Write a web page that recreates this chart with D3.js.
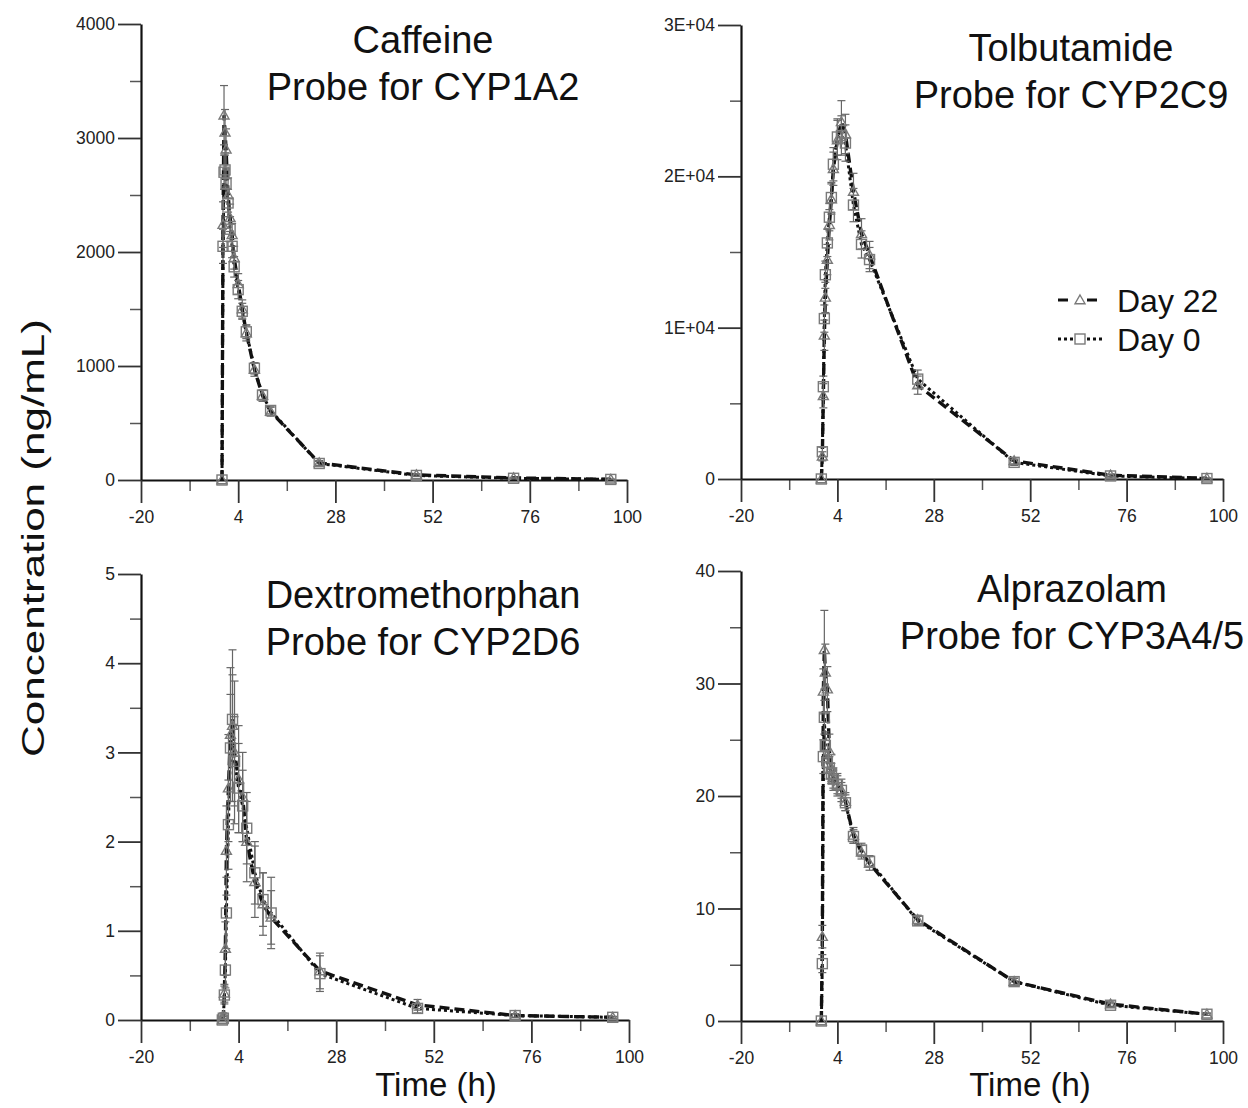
<!DOCTYPE html>
<html><head><meta charset="utf-8">
<script src="https://cdn.jsdelivr.net/npm/d3@7"></script>
<style>body{margin:0;background:#fff}svg{display:block}text{font-family:"Liberation Sans",Arial,sans-serif}</style>
</head><body><svg id="c" width="1248" height="1108"></svg>
<script>
// ---- data ----
const times = [0, 0.25, 0.5, 0.75, 1, 1.5, 2, 2.5, 3, 4, 5, 6, 8, 10, 12, 24, 48, 72, 96];
const xTicks = [-20, 4, 28, 52, 76, 100];
const xMinor = [-8, 16, 40, 64, 88];

const caffeineDay22 = [0, 2240, 3200, 3050, 2900, 2500, 2300, 2150, 1950, 1720, 1500, 1290, 970, 740, 600, 150, 45, 18, 6];
const caffeineDay0  = [0, 2050, 2700, 2720, 2600, 2430, 2200, 2050, 1870, 1670, 1480, 1300, 980, 745, 610, 145, 40, 15, 5];
const caffeineSd22  = [0, 200, 260, 200, 180, 150, 120, 100, 100, 90, 80, 70, 60, 50, 40, 20, 10, 5, 2];
const caffeineSd0   = [0, 150, 150, 150, 130, 120, 110, 100, 90, 80, 70, 60, 50, 40, 30, 20, 10, 5, 2];

const tolbutamideDay22 = [0, 1500, 5500, 9500, 12000, 14500, 16800, 18500, 20500, 22400, 23600, 22800, 19000, 16200, 14800, 6200, 1200, 250, 50];
const tolbutamideDay0  = [0, 1800, 6100, 10600, 13500, 15600, 17300, 18600, 20800, 22600, 22700, 22200, 18100, 15500, 14500, 6600, 1100, 200, 30];
const tolbutamideSd22  = [0, 300, 800, 1000, 1000, 1000, 1000, 1000, 1100, 1300, 1400, 1300, 1200, 1000, 900, 600, 200, 80, 20];
const tolbutamideSd0   = [0, 300, 700, 900, 900, 900, 900, 1000, 1100, 1200, 1300, 1200, 1100, 900, 800, 600, 200, 80, 20];

const dextroDay22 = [0, 0.05, 0.3, 0.8, 1.9, 2.6, 3.2, 3.3, 3.0, 2.7, 2.5, 2.0, 1.55, 1.3, 1.15, 0.55, 0.17, 0.05, 0.03];
const dextroDay0  = [0, 0.02, 0.28, 0.56, 1.2, 2.19, 3.05, 3.37, 2.9, 2.6, 2.4, 2.15, 1.65, 1.35, 1.2, 0.52, 0.13, 0.05, 0.03];
const dextroSd22  = [0, 0.03, 0.1, 0.3, 0.5, 0.6, 0.75, 0.85, 0.8, 0.6, 0.5, 0.45, 0.4, 0.35, 0.3, 0.2, 0.06, 0.02, 0.01];
const dextroSd0   = [0, 0.02, 0.1, 0.2, 0.4, 0.5, 0.6, 0.5, 0.5, 0.5, 0.4, 0.4, 0.35, 0.3, 0.4, 0.2, 0.05, 0.02, 0.01];

const alprazolamDay22 = [0, 7.5, 29.3, 33, 31, 29.5, 24, 22.5, 21.5, 21, 20.5, 19.5, 16.5, 15, 14, 9, 3.5, 1.5, 0.6];
const alprazolamDay0  = [0, 5.1, 23.5, 27, 24.5, 23, 22.5, 22, 21.5, 21, 20.5, 19.4, 16.4, 15.2, 14.2, 8.9, 3.5, 1.4, 0.6];
const alprazolamSd22  = [0, 1, 2, 3.5, 2.5, 2, 1.5, 1.2, 1, 1, 1, 0.8, 0.7, 0.6, 0.6, 0.4, 0.3, 0.2, 0.1];
const alprazolamSd0   = [0, 0.8, 1.5, 1.5, 1.2, 1, 1, 0.9, 0.8, 0.8, 0.7, 0.7, 0.6, 0.6, 0.5, 0.4, 0.3, 0.2, 0.1];

const drugNames = ["Caffeine", "Tolbutamide", "Dextromethorphan", "Alprazolam"];
const probeLabels = ["Probe for CYP1A2", "Probe for CYP2C9", "Probe for CYP2D6", "Probe for CYP3A4/5"];
const yMax = [4000, 30000, 5, 40];
const yMajorStep = [1000, 10000, 1, 10];
const seriesNames = ["Day 22", "Day 0"];

// ---- layout ----
const panels = [
  {l:141, r:627, t:24, b:480, tx:423, ty:[53, 100], fmt: d=>String(d), d22:caffeineDay22, d0:caffeineDay0, s22:caffeineSd22, s0:caffeineSd0},
  {l:741, r:1223, t:25, b:479, tx:1071, ty:[61, 108], fmt: d=> d===0?"0":(d/1e4)+"E+04", d22:tolbutamideDay22, d0:tolbutamideDay0, s22:tolbutamideSd22, s0:tolbutamideSd0},
  {l:141, r:629, t:574, b:1020, tx:423, ty:[608, 655], fmt: d=>String(d), d22:dextroDay22, d0:dextroDay0, s22:dextroSd22, s0:dextroSd0},
  {l:741, r:1223, t:571, b:1021, tx:1072, ty:[602, 649], fmt: d=>String(d), d22:alprazolamDay22, d0:alprazolamDay0, s22:alprazolamSd22, s0:alprazolamSd0}
];

const svg = d3.select("#c");
const markerGrey = "#7a7a7a";
const tickFont = "'Liberation Sans', Arial, sans-serif";

function triPath(x, y, s) {
  return `M${x},${y - s}L${x + s},${y + s * 0.75}L${x - s},${y + s * 0.75}Z`;
}

panels.forEach((p, i) => {
  const g = svg.append("g");
  const x = d3.scaleLinear().domain([-20, 100]).range([p.l, p.r]);
  const y = d3.scaleLinear().domain([0, yMax[i]]).range([p.b, p.t]);
  const majors = d3.range(0, yMax[i] + 1e-9, yMajorStep[i]);
  const minors = d3.range(yMajorStep[i] / 2, yMax[i], yMajorStep[i]);

  // minor ticks
  g.append("g").attr("transform", `translate(${p.l},0)`)
    .call(d3.axisLeft(y).tickValues(minors).tickSize(11).tickFormat("").tickSizeOuter(0))
    .call(a => a.select(".domain").remove())
    .call(a => a.selectAll("line").attr("stroke", "#555").attr("stroke-width", 1.5));
  g.append("g").attr("transform", `translate(0,${p.b})`)
    .call(d3.axisBottom(x).tickValues(xMinor).tickSize(11).tickFormat("").tickSizeOuter(0))
    .call(a => a.select(".domain").remove())
    .call(a => a.selectAll("line").attr("stroke", "#555").attr("stroke-width", 1.5));

  // major y axis
  g.append("g").attr("transform", `translate(${p.l},0)`)
    .call(d3.axisLeft(y).tickValues(majors).tickSize(23).tickPadding(3).tickFormat(p.fmt).tickSizeOuter(0))
    .call(a => a.select(".domain").attr("stroke", "#111").attr("stroke-width", 2.2))
    .call(a => a.selectAll("line").attr("stroke", "#333").attr("stroke-width", 1.8))
    .call(a => a.selectAll("text").attr("font-size", 17.5).attr("fill", "#222").attr("font-family", tickFont));
  // major x axis
  g.append("g").attr("transform", `translate(0,${p.b})`)
    .call(d3.axisBottom(x).tickValues(xTicks).tickSize(23).tickPadding(8).tickFormat(d => String(d)).tickSizeOuter(0))
    .call(a => a.select(".domain").attr("stroke", "#111").attr("stroke-width", 2.2))
    .call(a => a.selectAll("line").attr("stroke", "#333").attr("stroke-width", 1.8))
    .call(a => a.selectAll("text").attr("font-size", 17.5).attr("fill", "#222").attr("font-family", tickFont));

  const line = d3.line().x((d, j) => x(times[j])).y(d => y(d));
  // lines
  g.append("path").datum(p.d0).attr("d", line).attr("fill", "none")
    .attr("stroke", "#111").attr("stroke-width", 3).attr("stroke-dasharray", "3,3");
  g.append("path").datum(p.d22).attr("d", line).attr("fill", "none")
    .attr("stroke", "#111").attr("stroke-width", 3.4).attr("stroke-dasharray", "10,5");

  // error bars
  [[p.d22, p.s22], [p.d0, p.s0]].forEach(([vals, sds]) => {
    const eb = g.append("g").attr("stroke", "#666").attr("stroke-width", 1.2);
    vals.forEach((v, j) => {
      if (!sds[j]) return;
      const cx = x(times[j]), y1 = y(v + sds[j]), y2 = y(Math.max(0, v - sds[j]));
      eb.append("line").attr("x1", cx).attr("x2", cx).attr("y1", y1).attr("y2", y2);
      eb.append("line").attr("x1", cx - 4).attr("x2", cx + 4).attr("y1", y1).attr("y2", y1);
      eb.append("line").attr("x1", cx - 4).attr("x2", cx + 4).attr("y1", y2).attr("y2", y2);
    });
  });

  // markers
  g.append("g").selectAll("path").data(p.d22).join("path")
    .attr("d", (d, j) => triPath(x(times[j]), y(d), 5))
    .attr("fill", "none").attr("stroke", markerGrey).attr("stroke-width", 1.4);
  g.append("g").selectAll("rect").data(p.d0).join("rect")
    .attr("x", (d, j) => x(times[j]) - 5).attr("y", d => y(d) - 5)
    .attr("width", 10).attr("height", 10)
    .attr("fill", "none").attr("stroke", markerGrey).attr("stroke-width", 1.4);

  // titles
  g.append("text").attr("x", p.tx).attr("y", p.ty[0]).attr("text-anchor", "middle")
    .attr("font-size", 38).attr("fill", "#111").text(drugNames[i]);
  g.append("text").attr("x", p.tx).attr("y", p.ty[1]).attr("text-anchor", "middle")
    .attr("font-size", 38).attr("fill", "#111").text(probeLabels[i]);
});

// axis titles
svg.append("text").attr("transform", "translate(44,538) rotate(-90)").attr("text-anchor", "middle")
  .attr("font-size", 32).attr("fill", "#111")
  .attr("textLength", 438).attr("lengthAdjust", "spacingAndGlyphs")
  .text("Concentration (ng/mL)");
svg.append("text").attr("x", 436).attr("y", 1096).attr("text-anchor", "middle")
  .attr("font-size", 33).attr("fill", "#111").text("Time (h)");
svg.append("text").attr("x", 1030).attr("y", 1096).attr("text-anchor", "middle")
  .attr("font-size", 33).attr("fill", "#111").text("Time (h)");

// legend
const lg = svg.append("g");
[[300, "10,5", "tri"], [339, "3,3", "sq"]].forEach(([ly, dash, m], k) => {
  lg.append("line").attr("x1", 1058).attr("x2", 1073).attr("y1", ly).attr("y2", ly)
    .attr("stroke", "#111").attr("stroke-width", 3).attr("stroke-dasharray", dash);
  lg.append("line").attr("x1", 1087).attr("x2", 1102).attr("y1", ly).attr("y2", ly)
    .attr("stroke", "#111").attr("stroke-width", 3).attr("stroke-dasharray", dash);
  if (m === "tri") lg.append("path").attr("d", triPath(1080, ly, 5)).attr("fill", "none").attr("stroke", markerGrey).attr("stroke-width", 1.4);
  else lg.append("rect").attr("x", 1075).attr("y", ly - 5).attr("width", 10).attr("height", 10).attr("fill", "none").attr("stroke", markerGrey).attr("stroke-width", 1.4);
  lg.append("text").attr("x", 1117).attr("y", ly + 12).attr("font-size", 32).attr("fill", "#111").text(seriesNames[k]);
});
</script></body></html>
